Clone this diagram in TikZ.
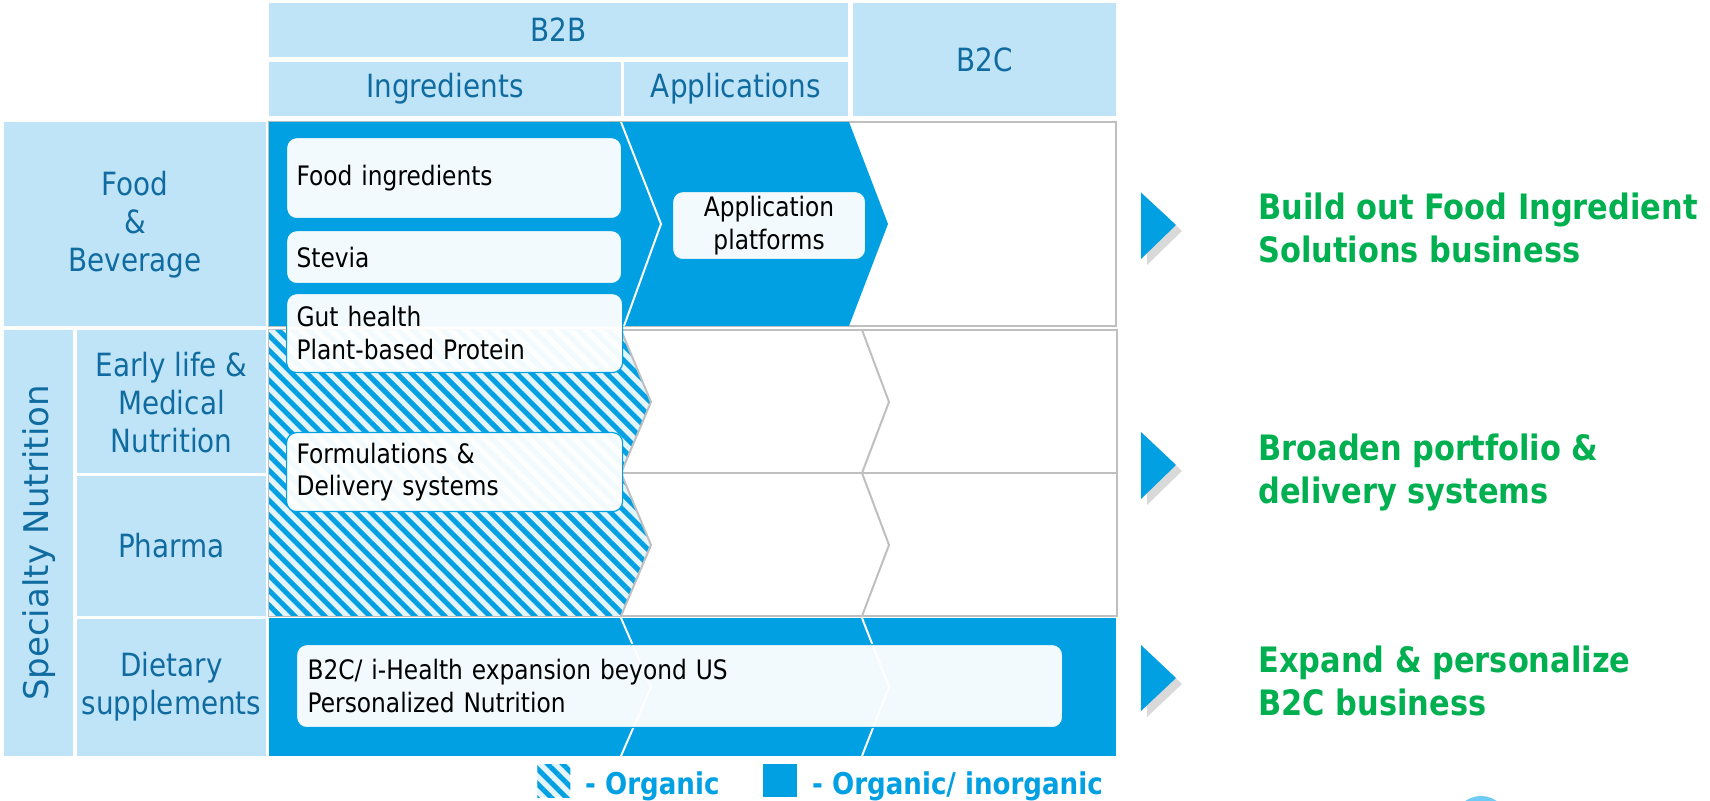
\documentclass[tikz,border=0pt]{standalone}
\usepackage{fontspec}
\setmainfont{DejaVu Sans}[FakeStretch=0.87]
\newfontfamily\sidefont{DejaVu Sans}
\usetikzlibrary{positioning,patterns.meta,shadows}

\definecolor{hdrfill}{RGB}{192,228,247}
\definecolor{hdrtext}{RGB}{16,108,160}
\definecolor{dsmblue}{RGB}{0,160,227}
\definecolor{hatchbg}{RGB}{228,244,252}
\definecolor{rowgray}{RGB}{191,191,191}
\definecolor{goalgreen}{RGB}{0,176,80}
\definecolor{logoblue}{RGB}{110,203,243}

\tikzset{
  hdr/.style={text=hdrtext, font=\fontsize{16pt}{19pt}\selectfont,
    align=center, inner sep=0pt},
  item/.style={draw=dsmblue, line width=0.6pt, fill=white,
    fill opacity=0.95, text opacity=1, rounded corners=5pt, text=black,
    font=\fontsize{13.4pt}{16.3pt}\selectfont, align=left,
    inner ysep=0pt, inner xsep=5pt, anchor=north west},
  organic/.style={fill=hatchbg, postaction={pattern={Lines[angle=-45,
    distance=5.3pt, line width=2.5pt]}, pattern color=dsmblue}},
  goal/.style={text=goalgreen, font=\bfseries\fontsize{17.5pt}{21.5pt}\selectfont,
    align=left, inner sep=0pt, anchor=west},
  keytext/.style={text=dsmblue, font=\bfseries\fontsize{15pt}{18pt}\selectfont,
    inner sep=0pt, yshift=-2.5pt},
  pointer/.style={fill=dsmblue, drop shadow={shadow xshift=3pt,
    shadow yshift=-3pt, opacity=0.3}}
}

\begin{document}
\begin{tikzpicture}[x=0.5pt,y=-0.5pt]
  \clip (0,0) rectangle (1710,801);
  \fill[logoblue] (1481,823) circle (27);

  % column headers
  \fill[hdrfill] (269,3) rectangle (848,57);
  \node[hdr] (b2b) at (558.5,30) {B2B};
  \fill[hdrfill] (269,62) rectangle (621,116);
  \node[hdr] (ingr) at (445,89) {Ingredients};
  \fill[hdrfill] (624,62) rectangle (848,116);
  \node[hdr] (appl) at (736,89) {Applications};
  \fill[hdrfill] (853,3) rectangle (1116,116);
  \node[hdr] (b2c) at (984.5,60) {B2C};

  % row headers
  \fill[hdrfill] (4,122) rectangle (266,326);
  \node[hdr] (fnb) at (135,225) {Food\\\&\\Beverage};
  \fill[hdrfill] (4,330) rectangle (73,756);
  \node[hdr, font=\sidefont\fontsize{17pt}{20pt}\selectfont, rotate=90]
    (spec) at (39,543) {Specialty Nutrition};
  \fill[hdrfill] (77,330) rectangle (266,473);
  \node[hdr] (early) at (171.5,403) {Early life \&\\Medical\\Nutrition};
  \fill[hdrfill] (77,476) rectangle (266,616);
  \node[hdr] (pharma) at (171.5,546) {Pharma};
  \fill[hdrfill] (77,619) rectangle (266,756);
  \node[hdr] (diet) at (171.5,687) {Dietary\\supplements};

  % empty cells
  \draw[rowgray, line width=1pt] (269,122) rectangle (1116,326);
  \draw[rowgray, line width=1pt] (269,330) rectangle (1117,473);
  \draw[rowgray, line width=1pt] (269,473) rectangle (1117,616);
  \draw[rowgray, line width=1pt] (862,330) -- (889,402) -- (862,473)
    -- (889,545) -- (862,616);

  % food & beverage row
  \fill[dsmblue] (269,122) -- (849,122) -- (888,224) -- (849,326)
    -- (269,326) -- cycle;
  \draw[white, line width=1pt] (621,122) -- (661,224) -- (624,326);

  % organic part
  \path[organic] (269,330) -- (621,330) -- (651,402) -- (621,473)
    -- (651,545) -- (621,616) -- (269,616) -- cycle;
  \draw[rowgray, line width=1pt] (621,330) -- (651,402) -- (621,473)
    -- (651,545) -- (621,616);

  % dietary row
  \fill[dsmblue] (269,618) rectangle (1116,756);
  \draw[white, line width=1pt] (621,618) -- (651,687) -- (621,756);
  \draw[white, line width=1pt] (862,618) -- (889,687) -- (862,756);

  % boxes
  \node[item, text width=157.5pt, minimum height=40.5pt] (food) at (286,137)
    {Food ingredients};
  \node[item, text width=157.5pt, minimum height=26.5pt] (stevia) at (286,230)
    {Stevia};
  \node[item, text width=158pt, minimum height=39.5pt] (gut) at (286,293)
    {Gut health\\Plant-based Protein};
  \node[item, text width=158pt, minimum height=39.5pt] (formul) at (286,432)
    {Formulations \&\\Delivery systems};
  \node[item, align=center, minimum width=96.5pt, minimum height=34pt]
    (platf) at (672,191) {Application\\platforms};
  \node[item, text width=372pt, inner xsep=5.5pt, minimum height=41.5pt]
    (ihealth) at (296,644)
    {B2C/ i-Health expansion beyond US\\Personalized Nutrition};

  % legend
  \node[organic, minimum width=16.5pt, minimum height=16.5pt, inner sep=0pt,
    anchor=north west] (orgkey) at (537,764) {};
  \node[keytext, right=7pt of orgkey] (orgtxt) {- Organic};
  \node[fill=dsmblue, minimum width=17pt, minimum height=16.5pt, inner sep=0pt,
    anchor=north west] (inorgkey) at (763,764) {};
  \node[keytext, right=7pt of inorgkey] (inorgtxt) {- Organic/ inorganic};

  % goals
  \fill[pointer] (1141,192.5) -- (1176,225) -- (1141,259) -- cycle;
  \fill[pointer] (1141,432) -- (1176,465) -- (1141,499) -- cycle;
  \fill[pointer] (1141,645) -- (1176,678) -- (1141,711) -- cycle;
  \node[goal] (goal1) at (1258,228) {Build out Food Ingredient\\Solutions business};
  \node[goal] (goal2) at (1258,472) {Broaden portfolio \&\\delivery systems};
  \node[goal] (goal3) at (1258,681) {Expand \& personalize\\B2C business};
\end{tikzpicture}
\end{document}
